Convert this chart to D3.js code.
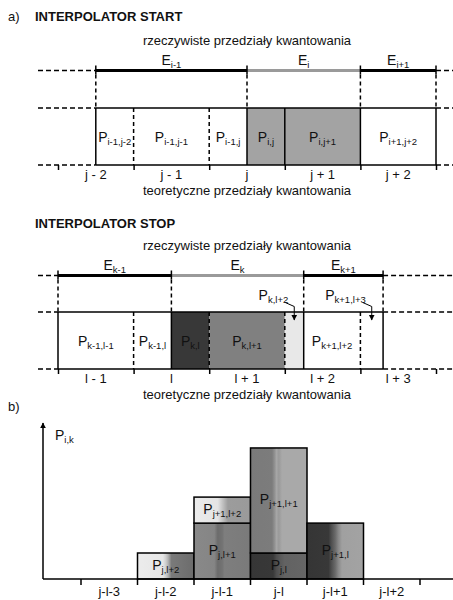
<!DOCTYPE html>
<html>
<head>
<meta charset="utf-8">
<script src="https://cdn.jsdelivr.net/npm/d3@7"></script>
<style>
  body { margin: 0; background: #fff; }
  svg text { font-family: "Liberation Sans", Arial, sans-serif; fill: #111; }
</style>
</head>
<body>
<div id="chart"></div>
<script>
// ---- data ----
// part a), interpolator start
var ticksStart = ["j - 2", "j - 1", "j", "j + 1", "j + 2"];
var intervalsStart = [
  { sub: "i-1", from: 0.5, to: 2.5 },
  { sub: "i",   from: 2.5, to: 4 },
  { sub: "i+1", from: 4,   to: 5 }
];
var cellsStart = [
  { sub: "i-1,j-2", from: 0.5, to: 1 },
  { sub: "i-1,j-1", from: 1,   to: 2 },
  { sub: "i-1,j",   from: 2,   to: 2.5 },
  { sub: "i,j",     from: 2.5, to: 3 },
  { sub: "i,j+1",   from: 3,   to: 4 },
  { sub: "i+1,j+2", from: 4,   to: 5 }
];
var dashedStart = [1, 2];

// part a), interpolator stop
var ticksStop = ["l - 1", "l", "l + 1", "l + 2", "l + 3"];
var intervalsStop = [
  { sub: "k-1", from: 0,    to: 1.5 },
  { sub: "k",   from: 1.5,  to: 3.25 },
  { sub: "k+1", from: 3.25, to: 4.3 }
];
var cellsStop = [
  { sub: "k-1,l-1", from: 0,    to: 1 },
  { sub: "k-1,l",   from: 1,    to: 1.5 },
  { sub: "k,l",     from: 1.5,  to: 2 },
  { sub: "k,l+1",   from: 2,    to: 3 },
  { sub: "k,l+2",   from: 3,    to: 3.25, callout: true },
  { sub: "k+1,l+2", from: 3.25, to: 4 },
  { sub: "k+1,l+3", from: 4,    to: 4.3,  callout: true }
];
var dashedStop = [1, 2, 3, 4];

// part b), histogram
var categories = ["j-l-3", "j-l-2", "j-l-1", "j-l", "j-l+1", "j-l+2"];
var bars = [
  { sub: "j,l+2",   cat: "j-l-2", value: 1 },
  { sub: "j,l+1",   cat: "j-l-1", value: 2.15 },
  { sub: "j+1,l+2", cat: "j-l-1", value: 1 },
  { sub: "j,l",     cat: "j-l",   value: 1 },
  { sub: "j+1,l+1", cat: "j-l",   value: 4.04 },
  { sub: "j+1,l",   cat: "j-l+1", value: 2.15 }
];

// ---- styles ----
var intervalColor = { "i-1": "#000", "i": "#9a9a9a", "i+1": "#000",
                      "k-1": "#000", "k": "#9a9a9a", "k+1": "#000" };
var cellFill = { "i,j": "#a3a3a3", "i,j+1": "#a3a3a3",
                 "k,l": "#383838", "k,l+1": "#808080", "k,l+2": "#e8e8e8" };
// horizontal shading of the histogram bars: [offset, colour]
var barShade = {
  "j,l+2":   [[0, "#ececec"], [0.45, "#e6e6e6"], [0.5, "#cfcfcf"], [0.54, "#b4b4b4"], [0.6, "#7a7a7a"], [1, "#6c6c6c"]],
  "j+1,l+2": [[0, "#ececec"], [0.42, "#e4e4e4"], [0.48, "#cccccc"], [0.55, "#b0b0b0"], [0.6, "#9c9c9c"], [1, "#9a9a9a"]],
  "j,l+1":   [[0, "#898989"], [0.36, "#858585"], [0.42, "#6c6c6c"], [0.5, "#737373"], [0.54, "#7e7e7e"], [1, "#7a7a7a"]],
  "j+1,l+1": [[0, "#7a7a7a"], [0.38, "#7c7c7c"], [0.42, "#8e8e8e"], [0.46, "#a6a6a6"], [0.5, "#9a9a9a"], [0.56, "#a9a9a9"], [1, "#a9a9a9"]],
  "j,l":     [[0, "#363636"], [0.4, "#383838"], [0.46, "#4e4e4e"], [0.52, "#585858"], [0.6, "#626262"], [1, "#666666"]],
  "j+1,l":   [[0, "#353535"], [0.38, "#383838"], [0.44, "#525252"], [0.5, "#6a6a6a"], [0.56, "#8a8a8a"], [0.62, "#a0a0a0"], [1, "#a3a3a3"]]
};

var width = 453, height = 600;
var lineLeft = 38;

var svg = d3.select("#chart").append("svg")
  .attr("width", width)
  .attr("height", height);

var defs = svg.append("defs");
defs.append("marker")
  .attr("id", "arrow")
  .attr("viewBox", "0 0 10 10")
  .attr("refX", 9).attr("refY", 5)
  .attr("markerWidth", 6).attr("markerHeight", 7)
  .attr("markerUnits", "userSpaceOnUse")
  .attr("orient", "auto")
  .append("path")
  .attr("d", "M0,0L10,5L0,10Z")
  .attr("fill", "#000");

// text with a subscript
function subText(sel, main, sub, x, y, anchor, size, subSize, drop) {
  var t = sel.append("text")
    .attr("x", x).attr("y", y)
    .attr("text-anchor", anchor)
    .style("font-size", size + "px");
  t.append("tspan").text(main);
  t.append("tspan").attr("dy", drop).style("font-size", subSize + "px").text(sub);
  return t;
}

function hline(g, x1, x2, y, dashed, color, w) {
  g.append("line")
    .attr("x1", x1).attr("x2", x2).attr("y1", y).attr("y2", y)
    .attr("stroke", color || "#000")
    .attr("stroke-width", w || 1.5)
    .attr("stroke-dasharray", dashed ? "5,3" : null);
}

function vline(g, x, y1, y2, dashed) {
  g.append("line")
    .attr("x1", x).attr("x2", x).attr("y1", y1).attr("y2", y2)
    .attr("stroke", "#000")
    .attr("stroke-width", 1.5)
    .attr("stroke-dasharray", dashed ? "4,3" : null);
}

// theoretical quantisation grid shared by both part a) panels
var x = d3.scaleLinear().domain([0, 5]).range([58, 436]);

function drawPanel(cfg) {
  var g = svg.append("g");
  var eY = cfg.eY, top = cfg.top, bot = cfg.bot;
  var first = d3.min(cfg.intervals, function(d) { return d.from; });
  var last = d3.max(cfg.intervals, function(d) { return d.to; });

  g.append("text")
    .attr("x", 35).attr("y", cfg.titleY)
    .style("font-size", "13px").style("font-weight", "bold")
    .text(cfg.title);

  g.append("text")
    .attr("x", x(2.5)).attr("y", eY - 26)
    .attr("text-anchor", "middle")
    .style("font-size", "13px")
    .text("rzeczywiste przedziały kwantowania");

  // cells (filled ones first, lines on top)
  g.selectAll(".cell").data(cfg.cells).enter()
    .append("rect")
    .attr("class", "cell")
    .attr("x", function(d) { return x(d.from); })
    .attr("y", top)
    .attr("width", function(d) { return x(d.to) - x(d.from); })
    .attr("height", bot - top)
    .attr("fill", function(d) { return cellFill[d.sub] || "#fff"; });

  // real intervals line
  hline(g, lineLeft, x(first), eY, true);
  hline(g, x(last), width, eY, true);
  cfg.intervals.forEach(function(d) {
    hline(g, x(d.from), x(d.to), eY, false, intervalColor[d.sub], 3);
    subText(g, "E", d.sub, (x(d.from) + x(d.to)) / 2, eY - 6, "middle", 14, 9.5, 3);
  });
  var bounds = [first].concat(cfg.intervals.map(function(d) { return d.to; }));
  bounds.forEach(function(b) {
    vline(g, x(b), eY - 5, eY + 4, false);
    vline(g, x(b), eY + 4, top, true);
  });

  // cell rows
  var cFirst = d3.min(cfg.cells, function(d) { return d.from; });
  var cLast = d3.max(cfg.cells, function(d) { return d.to; });
  [top, bot].forEach(function(y) {
    hline(g, lineLeft, x(cFirst), y, true);
    hline(g, x(cFirst), x(cLast), y, false);
    hline(g, x(cLast), width, y, true);
  });
  var edges = [cFirst].concat(cfg.cells.map(function(d) { return d.to; }));
  edges.forEach(function(b) {
    vline(g, x(b), top, bot, cfg.dashed.indexOf(b) >= 0);
  });

  // cell labels
  cfg.cells.forEach(function(d) {
    var cx = (x(d.from) + x(d.to)) / 2;
    if (d.callout) {
      subText(g, "P", d.sub, cx - 6, eY + 24, "end", 14, 9.5, 3);
      g.append("path")
        .attr("d", "M" + (cx - 9) + "," + (eY + 27) + "L" + cx + "," + (eY + 31) + "L" + cx + "," + (top + 8))
        .attr("fill", "none")
        .attr("stroke", "#000")
        .attr("stroke-width", 1)
        .attr("marker-end", "url(#arrow)");
    } else {
      subText(g, "P", d.sub, cx, (top + bot) / 2 + 5, "middle", 14, 9.5, 3);
    }
  });

  // theoretical intervals axis
  var axis = d3.axisBottom(x)
    .tickValues(d3.range(0, 6))
    .tickSize(5)
    .tickFormat("");
  g.append("g")
    .attr("transform", "translate(0," + bot + ")")
    .call(axis)
    .call(function(a) {
      a.select(".domain").remove();
      a.selectAll(".tick line").attr("stroke-width", 1.5);
    });
  g.selectAll(".tlabel").data(cfg.ticks).enter()
    .append("text")
    .attr("class", "tlabel")
    .attr("x", function(d, i) { return x(i + 0.5); })
    .attr("y", bot + 14)
    .attr("text-anchor", "middle")
    .style("font-size", "13px")
    .text(function(d) { return d; });

  g.append("text")
    .attr("x", x(2.5)).attr("y", bot + 30)
    .attr("text-anchor", "middle")
    .style("font-size", "13px")
    .text("teoretyczne przedziały kwantowania");
}

svg.append("text").attr("x", 8).attr("y", 21).style("font-size", "13px").text("a)");

drawPanel({ title: "INTERPOLATOR START", titleY: 21, eY: 70.5, top: 108, bot: 165,
  intervals: intervalsStart, cells: cellsStart, ticks: ticksStart, dashed: dashedStart });
drawPanel({ title: "INTERPOLATOR STOP", titleY: 228, eY: 275.5, top: 312, bot: 369,
  intervals: intervalsStop, cells: cellsStop, ticks: ticksStop, dashed: dashedStop });

// ---- part b) ----
svg.append("text").attr("x", 8).attr("y", 411).style("font-size", "13px").text("b)");

var xb = d3.scaleBand().domain(categories).range([81, 420]).paddingInner(0);
var yb = d3.scaleLinear().domain([0, 6]).range([579, 423]);

var stackTop = {};
bars.forEach(function(d) {
  d.base = stackTop[d.cat] || 0;
  stackTop[d.cat] = d.base + d.value;
});

bars.forEach(function(d, i) {
  var grad = defs.append("linearGradient")
    .attr("id", "shade" + i)
    .attr("x1", "0").attr("x2", "1").attr("y1", "0").attr("y2", "0");
  barShade[d.sub].forEach(function(s) {
    grad.append("stop").attr("offset", s[0]).attr("stop-color", s[1]);
  });
});

var gb = svg.append("g");
gb.selectAll(".bar").data(bars).enter()
  .append("rect")
  .attr("class", "bar")
  .attr("x", function(d) { return xb(d.cat); })
  .attr("y", function(d) { return yb(d.base + d.value); })
  .attr("width", xb.bandwidth())
  .attr("height", function(d) { return yb(d.base) - yb(d.base + d.value); })
  .attr("fill", function(d, i) { return "url(#shade" + i + ")"; })
  .attr("stroke", "#000")
  .attr("stroke-width", 1.5);

bars.forEach(function(d) {
  var cy = (yb(d.base) + yb(d.base + d.value)) / 2;
  subText(gb, "P", d.sub, xb(d.cat) + xb.bandwidth() / 2, cy + 4, "middle", 14, 9.5, 3);
});

// axes
gb.append("line")
  .attr("x1", 43).attr("x2", 43).attr("y1", 579).attr("y2", 423)
  .attr("stroke", "#000").attr("stroke-width", 1.5)
  .attr("marker-end", "url(#arrow)");
hline(gb, 43, width, 579, false);
subText(gb, "P", "i,k", 55, 440, "start", 14, 9.5, 3);

gb.selectAll(".edge").data(categories.concat(["end"])).enter()
  .append("line")
  .attr("class", "edge")
  .attr("x1", function(d) { return d === "end" ? xb.range()[1] : xb(d); })
  .attr("x2", function(d) { return d === "end" ? xb.range()[1] : xb(d); })
  .attr("y1", 579).attr("y2", 585)
  .attr("stroke", "#000").attr("stroke-width", 1.5);

gb.append("g")
  .attr("transform", "translate(0,579)")
  .call(d3.axisBottom(xb).tickSize(0).tickPadding(8))
  .call(function(a) {
    a.select(".domain").remove();
    a.selectAll("text").style("font-size", "13px")
      .style("font-family", "'Liberation Sans', Arial, sans-serif").attr("fill", "#111");
  });
</script>
</body>
</html>
